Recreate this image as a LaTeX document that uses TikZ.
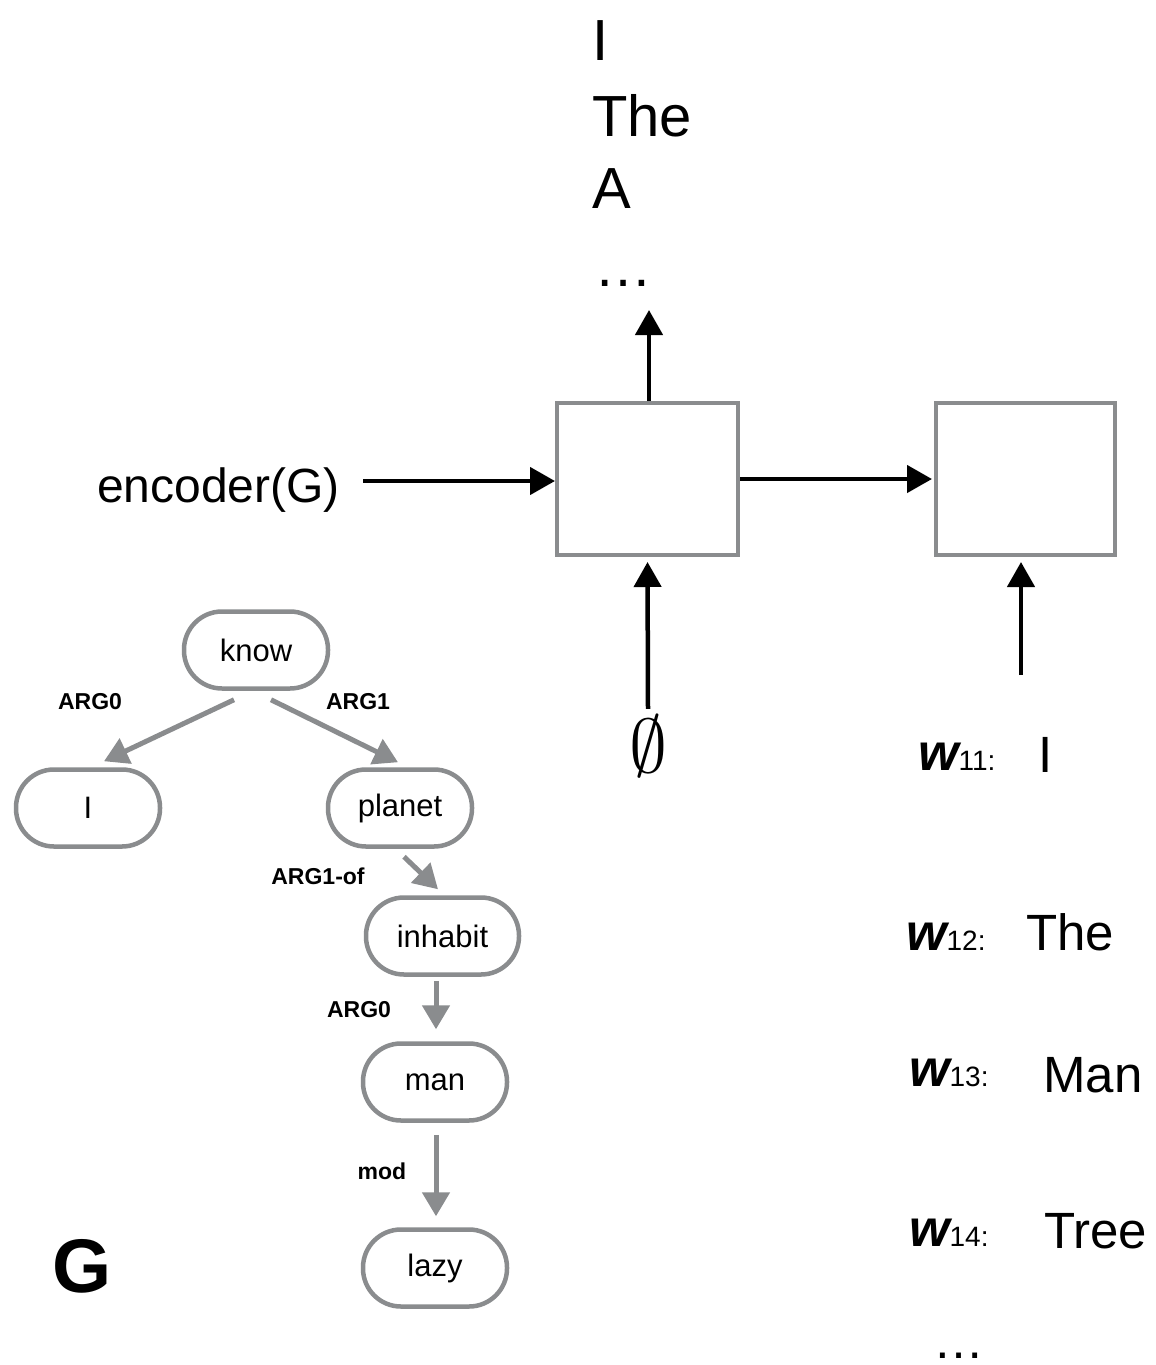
\RequirePackage{fix-cm}
\documentclass[tikz,border=0pt]{standalone}
\usepackage{fontspec}
\setmainfont{Liberation Sans}
\usetikzlibrary{arrows.meta}
\definecolor{nodegray}{HTML}{8A8C8E}
\newcommand{\fsz}[1]{\fontsize{#1}{#1}\selectfont}
\newcommand{\wl}[1]{{\fsz{52}\bfseries\itshape w}{\fsz{28}#1}}
\begin{document}
\begin{tikzpicture}[x=1pt,y=-1pt,
  cell/.style={draw=nodegray,line width=4pt,inner sep=0pt,fill=white},
  amr/.style={draw=nodegray,line width=4.5pt,rounded corners=38pt,minimum width=144pt,minimum height=77pt,inner sep=0pt,font=\fsz{31}},
  garrow/.style={draw=nodegray,line width=5pt,-{Triangle[length=24pt,width=27pt]}},
  barrow/.style={draw=black,line width=4.5pt,-{Triangle[length=25pt,width=27pt]}},
  elabel/.style={font=\bfseries\fsz{23},inner sep=0pt},
  bigword/.style={font=\fsz{58},anchor=base west,inner sep=0pt},
  word/.style={font=\fsz{51},anchor=base west,inner sep=0pt},
  wlab/.style={anchor=base west,inner sep=0pt}
]
\useasboundingbox[fill=white] (0,0) rectangle (1156,1365);

% decoder cells
\node[cell,minimum width=181pt,minimum height=152pt] (c1) at (647.5,479) {};
\node[cell,minimum width=179pt,minimum height=152pt] (c2) at (1025.5,479) {};

% outputs
\node[bigword] (o1) at (592,60) {I};
\node[bigword] (o2) at (592,136) {The};
\node[bigword] (o3) at (592,208) {A};
\node[bigword] (o4) at (594,286) {\dots};

% encoder input
\node[font=\fsz{48},anchor=base east,inner sep=0pt] (enc) at (340,502) {encoder(G)};
\coordinate (encOut) at (363,481);
\coordinate (outTip) at (649,310);
\coordinate (w11in) at (1021,675);

\node[anchor=base,inner sep=0pt] (nul) at (648,772) {\fsz{76}$\emptyset$};

\draw[barrow] (encOut) -- (encOut -| c1.west);
\draw[barrow,shorten >=2pt] (c1.east) -- (c2.west);
\draw[barrow] (c1.north -| outTip) -- (outTip);
\draw[barrow,shorten >=5pt] ([yshift=6pt]nul.north) -- (c1.south);
\draw[barrow,shorten >=5pt] (w11in) -- (w11in |- c2.south);

% word candidates
\node[wlab] (w1) at (918,770) {\wl{11:}};
\node[wlab] (w2) at (906,950) {\wl{12:}};
\node[wlab] (w3) at (909,1086) {\wl{13:}};
\node[wlab] (w4) at (909,1246) {\wl{14:}};
\node[word] (r1) at (1038,772) {I};
\node[word] (r2) at (1026,950) {The};
\node[word] (r3) at (1043,1092) {Man};
\node[word] (r4) at (1044,1248) {Tree};
\node[word] (r5) at (933,1358) {\dots};

% AMR graph
\node[amr] (know) at (256,650) {know};
\node[amr] (nI) at (88,808) {I};
\node[amr] (planet) at (400,808) {planet};
\node[amr,minimum width=153pt] (inhabit) at (442.5,936) {inhabit};
\node[amr] (man) at (435,1082) {man};
\node[amr] (lazy) at (435,1268) {lazy};

\draw[garrow] ([xshift=-22pt,yshift=-9pt]know.south) -- ([xshift=16pt,yshift=6pt]nI.north);
\draw[garrow] ([xshift=15pt,yshift=-9pt]know.south) -- ([xshift=-2pt,yshift=5pt]planet.north);
\draw[garrow] ([xshift=4pt,yshift=-8pt]planet.south) -- ([xshift=-4.5pt,yshift=6pt]inhabit.north);
\draw[garrow] ([xshift=-6.5pt,yshift=-4pt]inhabit.south) -- ([xshift=1pt,yshift=12pt]man.north);
\draw[garrow] ([xshift=1pt,yshift=-12pt]man.south) -- ([xshift=1pt,yshift=11pt]lazy.north);

\node[elabel] (l1) at (90,702) {ARG0};
\node[elabel] (l2) at (358,702) {ARG1};
\node[elabel] (l3) at (318,876) {ARG1-of};
\node[elabel] (l4) at (359,1010) {ARG0};
\node[elabel] (l5) at (382,1171) {mod};

\node[font=\bfseries\fsz{76},anchor=base west,inner sep=0pt] (G) at (52,1292) {G};
\end{tikzpicture}
\end{document}
